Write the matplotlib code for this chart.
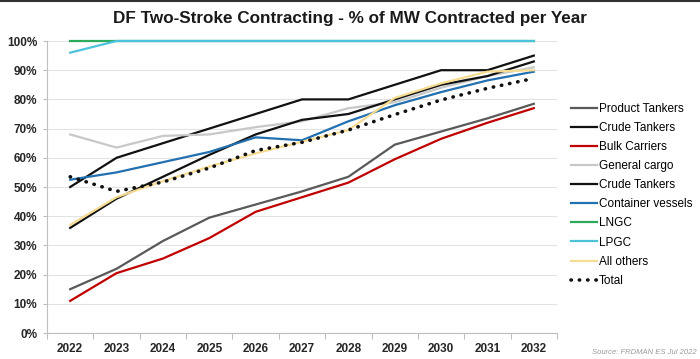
import matplotlib
matplotlib.use("Agg")
import matplotlib.pyplot as plt
from matplotlib.lines import Line2D
from matplotlib.ticker import FixedLocator, PercentFormatter
import numpy as np

plt.rcParams["font.family"] = ["Liberation Sans", "DejaVu Sans"]

years = ["2022", "2023", "2024", "2025", "2026", "2027",
         "2028", "2029", "2030", "2031", "2032"]

# % of MW contracted per year
product_tankers = [15, 22, 31.5, 39.5, 44, 48.5, 53.5, 64.5, 69, 73.5, 78.5]
crude_tankers_1 = [50, 60, 65, 70, 75, 80, 80, 85, 90, 90, 95]
bulk_carriers = [11, 20.5, 25.5, 32.5, 41.5, 46.5, 51.5, 59.5, 66.5, 72, 77]
general_cargo = [68, 63.5, 67.5, 68, 70.5, 72.5, 77, 79, 84, 88, 91]
crude_tankers_2 = [36, 46, 53.5, 61, 68, 73, 75, 80, 85, 88, 93]
container_vessels = [52.5, 55, 58.5, 62, 67, 66, 72.5, 78, 82.5, 86.5, 89.5]
lngc = [100, 100, 100, 100, 100, 100, 100, 100, 100, 100, 100]
lpgc = [96, 100, 100, 100, 100, 100, 100, 100, 100, 100, 100]
all_others = [37, 46.5, 52, 57, 61.5, 65.5, 69.5, 80.5, 85.5, 89.5, 90]
total = [53.5, 48.5, 51.7, 56.5, 62.5, 65.3, 69.5, 74.8, 79.8, 83.8, 87.2]

series = [
    ("Product Tankers", product_tankers, "#595959"),
    ("Crude Tankers", crude_tankers_1, "#111111"),
    ("Bulk Carriers", bulk_carriers, "#C00000"),
    ("General cargo", general_cargo, "#C8C8C8"),
    ("Crude Tankers", crude_tankers_2, "#111111"),
    ("Container vessels", container_vessels, "#2270B0"),
    ("LNGC", lngc, "#2EAA5C"),
    ("LPGC", lpgc, "#4CC3DA"),
    ("All others", all_others, "#F6DC92"),
]

fig = plt.figure(figsize=(7.0, 3.59), dpi=100)
ax = fig.add_axes([47 / 700, 1 - 333 / 359, 510 / 700, 292 / 359])

x = np.arange(len(years))
for name, vals, color in series:
    ax.plot(x, vals, color=color, lw=1.6, label=name,
            clip_on=False, solid_joinstyle="round")
ax.plot(x, total, color="#111111", lw=2.6, ls=(0, (0.1, 2.2)),
        dash_capstyle="round", label="Total", clip_on=False)

ax.set_xlim(-0.5, len(years) - 0.5)
ax.set_ylim(0, 100)
ax.set_yticks(np.arange(0, 101, 10))
ax.yaxis.set_major_formatter(PercentFormatter(100, decimals=0))
ax.set_xticks(x)
ax.set_xticklabels(years)
ax.xaxis.set_minor_locator(FixedLocator(np.arange(-0.5, len(years), 1)))
ax.tick_params(axis="x", which="major", length=0, pad=7)
ax.tick_params(axis="x", which="minor", length=4, color="#BFBFBF", width=0.8)
ax.tick_params(axis="y", length=3, color="#BFBFBF", width=0.8, pad=4)
for lab in ax.get_xticklabels() + ax.get_yticklabels():
    lab.set_fontsize(8.5)
    lab.set_fontweight("bold")
    lab.set_color("#262626")

ax.grid(axis="y", color="#E3E3E3", lw=0.8)
ax.set_axisbelow(True)
for side in ["top", "right"]:
    ax.spines[side].set_visible(False)
for side in ["left", "bottom"]:
    ax.spines[side].set_color("#BFBFBF")
    ax.spines[side].set_linewidth(0.8)

fig.text(0.5, 1 - 18 / 359, "DF Two-Stroke Contracting - % of MW Contracted per Year",
         ha="center", va="center", fontsize=12.3, fontweight="bold", color="#1a1a1a")
fig.text(0.995, 1 - 352 / 359, "Source: FRDMAN ES Jul 2022", ha="right", va="center",
         fontsize=5.5, style="italic", color="#9a9a9a")

handles, labels = ax.get_legend_handles_labels()
fig.legend(handles, labels, loc="upper left", bbox_to_anchor=(571 / 700, 1 - 103 / 359),
           frameon=False, fontsize=8.5, handlelength=2.2, handletextpad=0.15,
           labelspacing=0.6, borderpad=0, borderaxespad=0)

fig.add_artist(Line2D([0, 1], [0.998, 0.998], transform=fig.transFigure,
                      color="#333333", lw=1.5))

fig.savefig("out.png", dpi=100)
